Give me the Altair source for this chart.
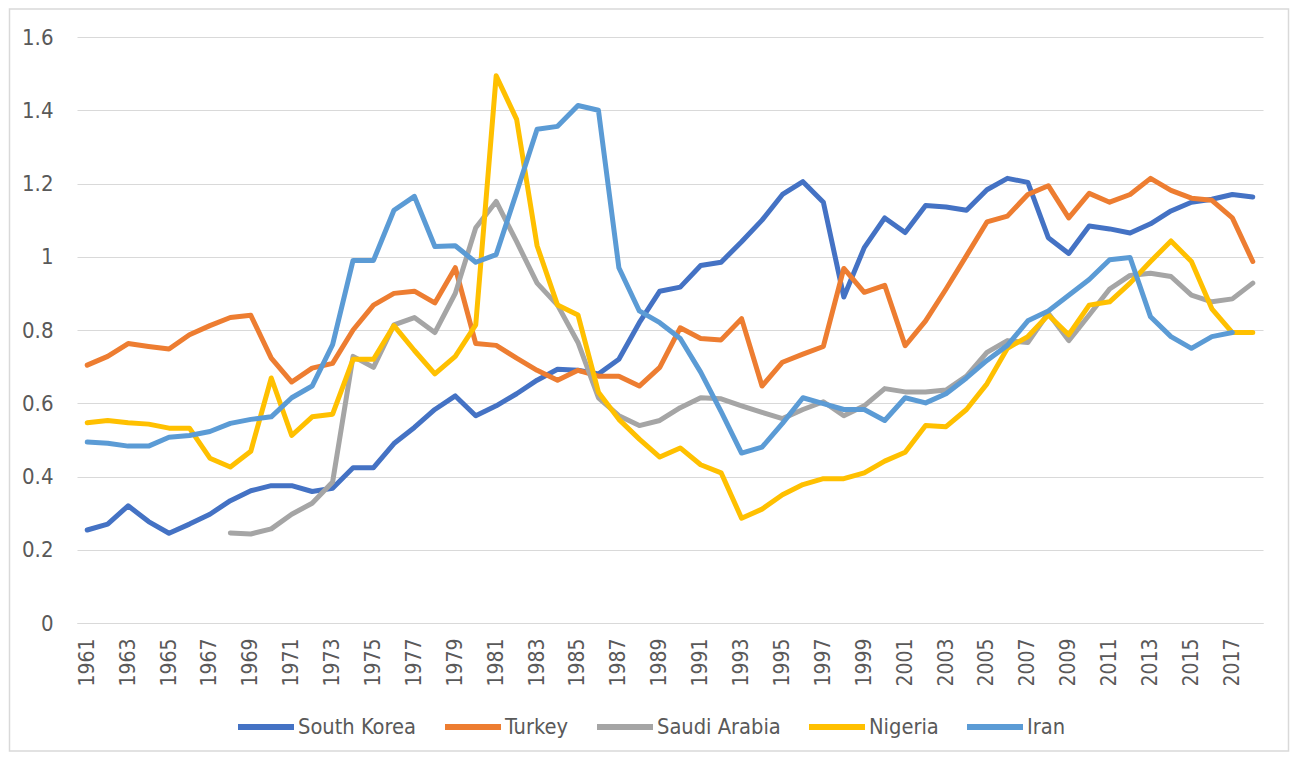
import altair as alt
import pandas as pd

years = list(range(1961, 2019))
series_names = ["South Korea", "Turkey", "Saudi Arabia", "Nigeria", "Iran"]
series_colors = ["#4472C4", "#ED7D31", "#A5A5A5", "#FFC000", "#5B9BD5"]

south_korea = [0.254, 0.27, 0.32, 0.277, 0.245, 0.27, 0.297, 0.334, 0.361, 0.375,
               0.375, 0.359, 0.368, 0.424, 0.424, 0.49, 0.534, 0.583, 0.62, 0.566,
               0.593, 0.626, 0.663, 0.693, 0.69, 0.68, 0.72, 0.82, 0.906, 0.917,
               0.976, 0.985, 1.041, 1.10, 1.17, 1.205, 1.149, 0.89, 1.025, 1.106,
               1.066, 1.14, 1.136, 1.127, 1.183, 1.214, 1.203, 1.052, 1.009, 1.084,
               1.076, 1.065, 1.09, 1.125, 1.149, 1.157, 1.17, 1.163]
turkey = [0.704, 0.728, 0.763, 0.755, 0.748, 0.787, 0.812, 0.834, 0.84, 0.723,
          0.658, 0.696, 0.709, 0.80, 0.868, 0.90, 0.906, 0.874, 0.97, 0.763,
          0.758, 0.723, 0.69, 0.663, 0.69, 0.674, 0.674, 0.647, 0.698, 0.806,
          0.777, 0.773, 0.831, 0.647, 0.712, 0.734, 0.755, 0.968, 0.903, 0.922,
          0.757, 0.825, 0.912, 1.003, 1.095, 1.111, 1.17, 1.194, 1.106, 1.173,
          1.149, 1.17, 1.214, 1.181, 1.16, 1.154, 1.106, 0.987]
saudi_arabia = [None] * 7 + [
    0.246, 0.243, 0.257,
    0.297, 0.327, 0.385, 0.728, 0.698, 0.814, 0.834, 0.793, 0.90, 1.079,
    1.151, 1.041, 0.928, 0.868, 0.766, 0.615, 0.566, 0.539, 0.553, 0.588,
    0.615, 0.612, 0.593, 0.575, 0.558, 0.583, 0.604, 0.566, 0.593, 0.64,
    0.631, 0.631, 0.636, 0.674, 0.739, 0.771, 0.766, 0.846, 0.771, 0.841,
    0.912, 0.949, 0.955, 0.946, 0.895, 0.877, 0.885, 0.928]
nigeria = [0.547, 0.553, 0.547, 0.543, 0.532, 0.532, 0.45, 0.426, 0.469, 0.669,
           0.512, 0.563, 0.57, 0.72, 0.72, 0.812, 0.744, 0.68, 0.728, 0.814,
           1.494, 1.375, 1.03, 0.868, 0.841, 0.63, 0.556, 0.502, 0.453, 0.478,
           0.432, 0.41, 0.286, 0.311, 0.35, 0.378, 0.394, 0.394, 0.41, 0.442,
           0.466, 0.539, 0.536, 0.583, 0.653, 0.75, 0.782, 0.841, 0.787, 0.868,
           0.877, 0.928, 0.987, 1.043, 0.987, 0.858, 0.793, 0.793]
iran = [0.494, 0.491, 0.483, 0.483, 0.507, 0.512, 0.523, 0.545, 0.556, 0.563,
        0.615, 0.647, 0.76, 0.99, 0.99, 1.127, 1.165, 1.028, 1.03, 0.985,
        1.006, 1.176, 1.348, 1.356, 1.413, 1.40, 0.97, 0.852, 0.82, 0.777,
        0.685, 0.577, 0.464, 0.48, 0.545, 0.615, 0.599, 0.583, 0.583, 0.553,
        0.615, 0.601, 0.626, 0.669, 0.717, 0.758, 0.825, 0.852, 0.895, 0.938,
        0.992, 0.998, 0.836, 0.782, 0.75, 0.782, 0.793, None]

y_ticks = [0, 0.2, 0.4, 0.6, 0.8, 1.0, 1.2, 1.4, 1.6]
x_label_years = list(range(1961, 2019, 2))

rows = []
for name, vals in zip(series_names,
                      [south_korea, turkey, saudi_arabia, nigeria, iran]):
    for yr, v in zip(years, vals):
        if v is not None:
            rows.append({"Year": yr, "Value": v, "Country": name})
df = pd.DataFrame(rows)

FONT = "Liberation Sans Narrow, DejaVu Sans Condensed, Liberation Sans"
TXT = "#595959"
GRID = "#D9D9D9"

W, H = 1186, 586
PAD_L, PAD_T, PAD_R, PAD_B = 69, 29, 27, 129

lines = alt.Chart(df).mark_line(
    strokeWidth=5, strokeJoin="round", strokeCap="round"
).encode(
    x=alt.X("Year:O",
            scale=alt.Scale(type="point", padding=0.5),
            axis=alt.Axis(values=x_label_years, labelAngle=-90, title=None,
                          ticks=False, grid=False, domain=True,
                          domainColor=GRID, domainWidth=1,
                          labelPadding=15, labelFontSize=21,
                          labelColor=TXT, labelFont=FONT)),
    y=alt.Y("Value:Q",
            scale=alt.Scale(domain=[0, 1.6], nice=False),
            axis=alt.Axis(values=y_ticks, format=".1~f", title=None,
                          ticks=False, domain=False, grid=True,
                          gridColor=GRID, gridWidth=1.2,
                          labelPadding=24, labelFontSize=22,
                          labelColor=TXT, labelFont=FONT)),
    color=alt.Color("Country:N",
                    scale=alt.Scale(domain=series_names, range=series_colors),
                    sort=series_names,
                    legend=alt.Legend(
                        title=None, orient="none", direction="horizontal",
                        legendX=158, legendY=659,
                        symbolType="stroke", symbolSize=3136,
                        symbolStrokeWidth=6, labelOffset=1,
                        columnPadding=16, labelFontSize=21.7,
                        labelColor=TXT, labelFont=FONT, padding=0)),
    order=alt.Order("Year:O"),
)

frame = alt.Chart(pd.DataFrame({"f": [0]})).mark_rect(
    fill=None, stroke=GRID, strokeWidth=1.5
).encode(
    x=alt.value(-PAD_L + 1.5), x2=alt.value(W + PAD_R - 1.5),
    y=alt.value(-PAD_T + 1), y2=alt.value(H + PAD_B - 1),
)

chart = alt.layer(frame, lines).properties(
    width=W, height=H,
    autosize=alt.AutoSizeParams(type="none"),
    padding={"left": PAD_L, "top": PAD_T, "right": PAD_R, "bottom": PAD_B},
    background="white",
).configure_view(stroke=None)

chart.save("out.html", embed_options={"renderer": "svg", "actions": False})
